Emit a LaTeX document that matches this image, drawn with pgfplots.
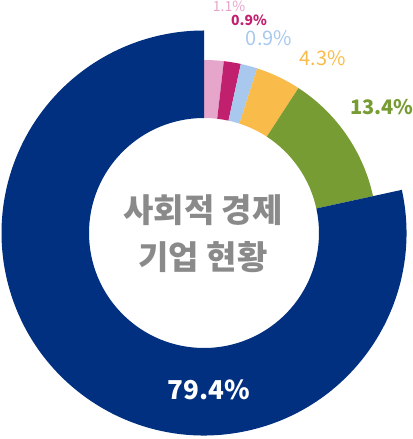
\documentclass[border=0pt]{standalone}
\usepackage{pgfplots}
\pgfplotsset{compat=1.18}
\usepackage{pgfplotstable}
\usepackage{fontspec}
\setmainfont{Noto Sans CJK KR}

\definecolor{cPink}{HTML}{E6A5CA}
\definecolor{cMag}{HTML}{C1206E}
\definecolor{cLight}{HTML}{A8C8EE}
\definecolor{cYel}{HTML}{F9BC4B}
\definecolor{cGreen}{HTML}{789C34}
\definecolor{cNavy}{HTML}{00307F}
\definecolor{cGray}{HTML}{8A8A8A}

% ring sectors, angles clockwise from 12 o'clock (deg), radii in bp
\pgfplotstableread{
start end  rout  col
0     6.6  173   cPink
6.6   12.3 173   cMag
12.3  17.9 173   cLight
17.9  33.1 173   cYel
33.1  77.7 173   cGreen
77.7  360  202.5 cNavy
}\sectors

\begin{document}
\begin{tikzpicture}
\begin{axis}[
  scale only axis,
  width=413bp, height=439bp,
  xmin=-204, xmax=209,
  ymin=-206, ymax=233,
  hide axis,
  clip=false,
]
\pgfplotsinvokeforeach{0,...,5}{
  \pgfplotstablegetelem{#1}{start}\of\sectors \let\sa\pgfplotsretval
  \pgfplotstablegetelem{#1}{end}\of\sectors \let\se\pgfplotsretval
  \pgfplotstablegetelem{#1}{rout}\of\sectors \let\ro\pgfplotsretval
  \pgfplotstablegetelem{#1}{col}\of\sectors \let\co\pgfplotsretval
  \pgfmathsetmacro\dr{\ro-115}
  \edef\sector{\noexpand\fill[\co] (axis cs:0,0) ++({90-\sa}:\ro bp)
    arc[start angle={90-\sa}, end angle={90-\se}, radius=\ro bp]
    -- ++({270-\se}:\dr bp)
    arc[start angle={90-\se}, end angle={90-\sa}, radius=115bp] -- cycle;}
  \sector
}

\node[text=cPink, font=\fontsize{14bp}{16bp}\selectfont] at (axis cs:25,226.3) {1.1\%};
\node[text=cMag, font=\fontsize{14bp}{16bp}\selectfont\bfseries] at (axis cs:45,212.5) {0.9\%};
\node[text=cLight, font=\fontsize{20bp}{24bp}\selectfont] at (axis cs:65,195) {0.9\%};
\node[text=cYel, font=\fontsize{20bp}{24bp}\selectfont] at (axis cs:118.5,175) {4.3\%};
\node[text=cGreen, font=\fontsize{20bp}{24bp}\selectfont\bfseries] at (axis cs:177.7,125.5) {13.4\%};
\node[text=white, font=\fontsize{26bp}{30bp}\selectfont\bfseries] at (axis cs:5,-156.5) {79.4\%};

\node[text=cGray, align=center, font=\fontsize{33bp}{47bp}\selectfont\bfseries] at (axis cs:-1,-0.5) {사회적 경제\\기업 현황};
\end{axis}
\pgfresetboundingbox
\path (current axis.south west) rectangle (current axis.north east);
\end{tikzpicture}
\end{document}
